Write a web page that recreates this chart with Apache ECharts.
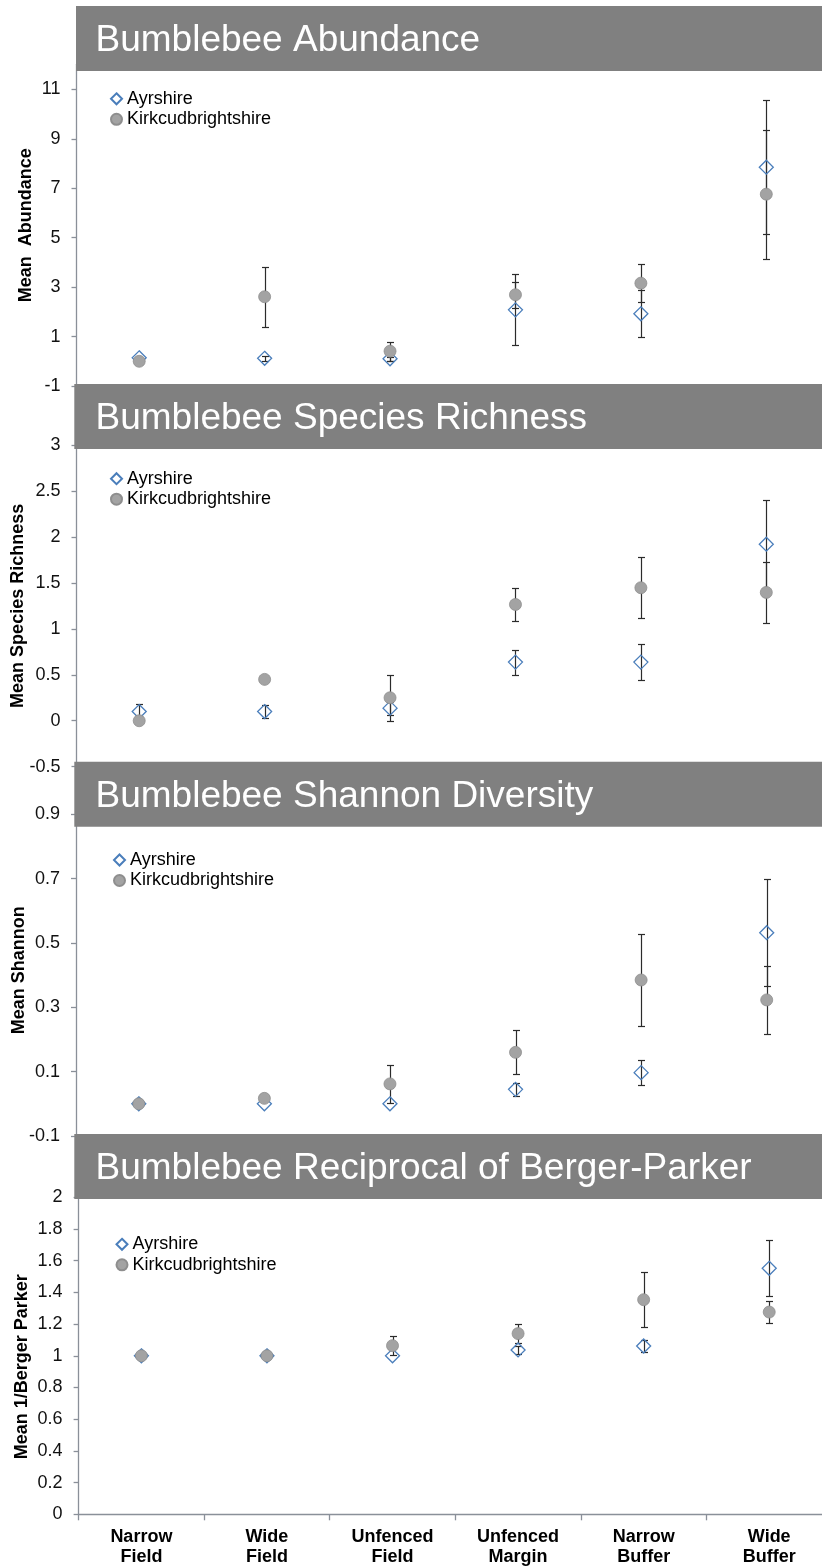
<!DOCTYPE html>
<html>
<head>
<meta charset="utf-8">
<script src="https://cdn.jsdelivr.net/npm/echarts@6/dist/echarts.min.js"></script>
<style>
html,body{margin:0;padding:0;background:#fff;}
#c{width:822px;height:1567px;}
</style>
</head>
<body>
<div id="c"></div>
<script>
// ---- data ----
const categories = ['Narrow\nField', 'Wide\nField', 'Unfenced\nField', 'Unfenced\nMargin', 'Narrow\nBuffer', 'Wide\nBuffer'];
const seriesNames = ['Ayrshire', 'Kirkcudbrightshire'];
const panelTitles = ['Bumblebee Abundance', 'Bumblebee Species Richness', 'Bumblebee Shannon Diversity', 'Bumblebee Reciprocal of Berger-Parker'];
const axisNames = ['Mean  Abundance', 'Mean Species Richness', 'Mean Shannon', 'Mean 1/Berger Parker'];

const abundAyr = [0.14, 0.12, 0.10, 2.08, 1.92, 7.85];
const abundAyrErr = [0, 0.1, 0.07, 1.44, 0.95, 2.70];
const abundKirk = [0.0, 2.61, 0.41, 2.69, 3.16, 6.76];
const abundKirkErr = [0, 1.21, 0.38, 0.53, 0.77, 2.61];

const richAyr = [0.10, 0.10, 0.137, 0.638, 0.638, 1.921];
const richAyrErr = [0.085, 0.07, 0.07, 0.136, 0.195, 0.48];
const richKirk = [0.0, 0.45, 0.25, 1.265, 1.447, 1.396];
const richKirkErr = [0, 0, 0.25, 0.18, 0.33, 0.335];

const shanAyr = [0, 0, 0, 0.045, 0.097, 0.532];
const shanAyrErr = [0, 0, 0, 0.02, 0.038, 0.167];
const shanKirk = [0, 0.017, 0.062, 0.16, 0.385, 0.323];
const shanKirkErr = [0, 0, 0.06, 0.068, 0.143, 0.106];

const bpAyr = [1, 1, 1, 1.037, 1.062, 1.552];
const bpAyrErr = [0, 0, 0, 0.023, 0.037, 0.177];
const bpKirk = [1, 1, 1.064, 1.14, 1.354, 1.276];
const bpKirkErr = [0, 0, 0.062, 0.062, 0.172, 0.072];

const abundTicks = [-1, 1, 3, 5, 7, 9, 11];
const richTicks = [-0.5, 0, 0.5, 1, 1.5, 2, 2.5, 3];
const shanTicks = [-0.1, 0.1, 0.3, 0.5, 0.7, 0.9];
const bpTicks = [0, 0.2, 0.4, 0.6, 0.8, 1, 1.2, 1.4, 1.6, 1.8, 2];

// ---- layout / style ----
const FONT = '"Liberation Sans", Arial, sans-serif';
const AXIS_COLOR = '#8a9099';
const panels = [
  {ayr: abundAyr, ayrErr: abundAyrErr, kirk: abundKirk, kirkErr: abundKirkErr, ticks: abundTicks, min: -1, max: 12,
   grid: {left: 76.5, right: -7, top: 64.6, height: 321.4}, legend: {left: 110, top: 88.8},
   banner: {x: 76, y: 6}, namePad: [0, 0, 0, 0], nameGap: 41},
  {ayr: richAyr, ayrErr: richAyrErr, kirk: richKirk, kirkErr: richKirkErr, ticks: richTicks, min: -0.5, max: 3,
   grid: {left: 76.5, right: -7, top: 445, height: 321.7}, legend: {left: 110, top: 468.7},
   banner: {x: 74.3, y: 384}, namePad: [0, 0, 0, 0], nameGap: 49.5},
  {ayr: shanAyr, ayrErr: shanAyrErr, kirk: shanKirk, kirkErr: shanKirkErr, ticks: shanTicks, min: -0.1, max: 0.9,
   grid: {left: 76, right: -7.5, top: 814.3, height: 321.7}, legend: {left: 113, top: 850},
   banner: {x: 74.3, y: 761.7}, namePad: [0, 0, 0, 10], nameGap: 47.5},
  {ayr: bpAyr, ayrErr: bpAyrErr, kirk: bpKirk, kirkErr: bpKirkErr, ticks: bpTicks, min: 0, max: 2,
   grid: {left: 78.6, right: -10, top: 1197.3, height: 317}, legend: {left: 115.5, top: 1234.3},
   banner: {x: 74.3, y: 1134}, namePad: [0, 22, 0, 0], nameGap: 47.5}
];

function errRender(params, api) {
  const x = api.value(0), v = api.value(1), e = api.value(2);
  if (!e) return null;
  const top = api.coord([x, v + e]);
  const bot = api.coord([x, v - e]);
  const cx = Math.round(top[0]) + 0.5;
  const ty = Math.round(top[1]) + 0.5, by = Math.round(bot[1]) + 0.5;
  const st = {stroke: '#2b2b2b', lineWidth: 1.2};
  return {type: 'group', children: [
    {type: 'line', shape: {x1: cx, y1: ty, x2: cx, y2: by}, style: st},
    {type: 'line', shape: {x1: cx - 3.5, y1: ty, x2: cx + 3.5, y2: ty}, style: st},
    {type: 'line', shape: {x1: cx - 3.5, y1: by, x2: cx + 3.5, y2: by}, style: st}
  ]};
}

const grids = [], xAxes = [], yAxes = [], series = [], legends = [], graphics = [];
panels.forEach((p, i) => {
  grids.push(Object.assign({containLabel: false, outerBoundsMode: 'none'}, p.grid));
  const last = i === panels.length - 1;
  xAxes.push({
    type: 'category', gridIndex: i, data: categories, boundaryGap: true,
    show: last,
    axisLine: {show: last, lineStyle: {color: AXIS_COLOR, width: 1.3}},
    axisTick: {show: last, inside: false, length: 6, lineStyle: {color: AXIS_COLOR, width: 1.3}},
    axisLabel: {show: last, margin: 13, color: '#000', fontFamily: FONT, fontWeight: 'bold', fontSize: 18, lineHeight: 20, interval: 0},
    splitLine: {show: false}
  });
  yAxes.push({
    type: 'value', gridIndex: i, min: p.min, max: p.max,
    name: axisNames[i], nameLocation: 'middle', nameGap: p.nameGap, nameRotate: 90, nameMoveOverlap: false,
    nameTextStyle: {fontFamily: FONT, fontWeight: 'bold', fontSize: 18, color: '#000', padding: p.namePad},
    axisLine: {show: true, lineStyle: {color: AXIS_COLOR, width: 1.3}},
    axisTick: {show: true, inside: false, length: 5, lineStyle: {color: AXIS_COLOR, width: 1.3}, customValues: p.ticks},
    axisLabel: {margin: 16, color: '#111', fontFamily: FONT, fontSize: 18, customValues: p.ticks},
    splitLine: {show: false}
  });
  series.push({
    type: 'custom', name: 'errAyr' + i, xAxisIndex: i, yAxisIndex: i, z: 2,
    renderItem: errRender, data: p.ayr.map((v, k) => [k, v, p.ayrErr[k]]), silent: true
  });
  series.push({
    type: 'custom', name: 'errKirk' + i, xAxisIndex: i, yAxisIndex: i, z: 2,
    renderItem: errRender, data: p.kirk.map((v, k) => [k, v, p.kirkErr[k]]), silent: true
  });
  series.push({
    type: 'scatter', name: seriesNames[0], xAxisIndex: i, yAxisIndex: i, z: 3,
    symbol: 'diamond', symbolSize: 14,
    itemStyle: {color: 'rgba(255,255,255,0)', borderColor: '#4a7ebb', borderWidth: 1.3, opacity: 1},
    data: p.ayr
  });
  series.push({
    type: 'scatter', name: seriesNames[1], xAxisIndex: i, yAxisIndex: i, z: 4,
    symbol: 'circle', symbolSize: 12,
    itemStyle: {color: '#a3a3a3', borderColor: '#8e8e8e', borderWidth: 0.8, opacity: 1},
    data: p.kirk
  });
  legends.push({
    orient: 'vertical', left: p.legend.left, top: p.legend.top, itemWidth: 11, itemHeight: 11, itemGap: 0.5,
    padding: 0, selectedMode: false, data: seriesNames,
    textStyle: {fontFamily: FONT, fontSize: 18, color: '#000', lineHeight: 20}
  });
  graphics.push({
    type: 'rect', z: 100, shape: {x: p.banner.x, y: p.banner.y, width: 822 - p.banner.x, height: 65},
    style: {fill: '#808080'}, silent: true
  });
  graphics.push({
    type: 'text', z: 101, x: 95.5, y: p.banner.y + 35,
    style: {text: panelTitles[i], fill: '#fff', font: '37px ' + FONT, verticalAlign: 'middle', align: 'left'},
    silent: true
  });
});

const chart = echarts.init(document.getElementById('c'), null, {renderer: 'canvas'});
chart.setOption({
  animation: false,
  backgroundColor: '#fff',
  grid: grids, xAxis: xAxes, yAxis: yAxes, series: series, legend: legends,
  graphic: {elements: graphics}
});
</script>
</body>
</html>
